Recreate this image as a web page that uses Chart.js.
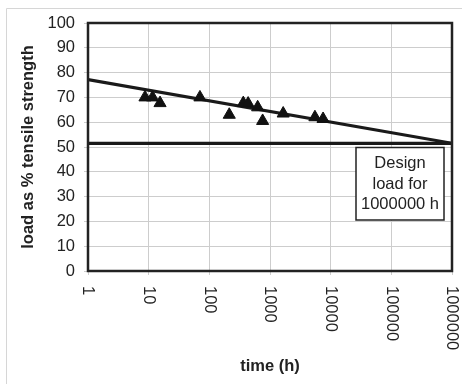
<!DOCTYPE html>
<html>
<head>
<meta charset="utf-8">
<script src="https://cdn.jsdelivr.net/npm/chart.js@4"></script>
<style>
  html, body { margin: 0; padding: 0; background: #fff; }
  #wrap { width: 462px; height: 384px; }
</style>
</head>
<body>
<div id="wrap"><canvas id="creepChart" width="462" height="384"></canvas></div>
<script>
// decade ticks on the time axis
let timeTicks = [1, 10, 100, 1000, 10000, 100000, 1000000];

// measured creep-rupture points
let testHours = [8.7, 11.6, 15.4, 70, 213, 363, 436, 626, 756, 1650, 5500, 7500];
let testLoads = [70, 70, 67.7, 70, 63, 67.7, 67.5, 66, 60.5, 63.5, 62, 61.3];

// fitted trend line and design load line
let trendHours = [1, 1000000];
let trendLoads = [77.2, 51.5];
let designLoad = 51.5;

let boxLines = ["Design", "load for", "1000000 h"];

let fontFamily = '"Liberation Sans", Arial, sans-serif';

// draws the grey frame, the plot border, the rotated time labels and the note box
let decorations = {
    id: 'decorations',
    beforeDraw(chart) {
        let ctx = chart.ctx;
        ctx.save();
        ctx.strokeStyle = '#d6d6d6';
        ctx.lineWidth = 1;
        ctx.beginPath();
        ctx.moveTo(6.5, 384);
        ctx.lineTo(6.5, 8.5);
        ctx.lineTo(462, 8.5);
        ctx.stroke();
        ctx.restore();
    },
    afterDatasetsDraw(chart) {
        let ctx = chart.ctx;
        let area = chart.chartArea;
        let x = chart.scales.x;
        ctx.save();
        ctx.strokeStyle = '#222';
        ctx.lineWidth = 2.5;
        ctx.strokeRect(area.left, area.top, area.right - area.left, area.bottom - area.top);

        // time labels read top to bottom
        ctx.fillStyle = '#222';
        ctx.font = '16.5px ' + fontFamily;
        ctx.textAlign = 'left';
        ctx.textBaseline = 'middle';
        for (let v of timeTicks) {
            ctx.save();
            ctx.translate(x.getPixelForValue(v), area.bottom + 15);
            ctx.rotate(Math.PI / 2);
            ctx.fillText(String(v), 0, 0);
            ctx.restore();
        }

        // note box
        let bx = 356, by = 147.5, bw = 88, bh = 72.5;
        ctx.fillStyle = '#fff';
        ctx.fillRect(bx, by, bw, bh);
        ctx.strokeStyle = '#222';
        ctx.lineWidth = 1.5;
        ctx.strokeRect(bx, by, bw, bh);
        ctx.fillStyle = '#222';
        ctx.textAlign = 'center';
        boxLines.forEach((t, i) => ctx.fillText(t, bx + bw / 2, by + 16 + i * 20.5));
        ctx.restore();
    }
};

new Chart("creepChart", {
    type: "scatter",
    data: {
        datasets: [{
            label: "tests",
            data: testHours.map((h, i) => ({ x: h, y: testLoads[i] })),
            pointStyle: 'triangle',
            pointRadius: 7,
            pointHoverRadius: 7,
            backgroundColor: '#111',
            borderColor: '#111',
            borderWidth: 1,
            order: 1
        }, {
            type: 'line',
            label: "trend",
            data: trendHours.map((h, i) => ({ x: h, y: trendLoads[i] })),
            borderColor: '#1a1a1a',
            borderWidth: 3.2,
            pointRadius: 0,
            fill: false,
            order: 2
        }, {
            type: 'line',
            label: "design",
            data: trendHours.map(h => ({ x: h, y: designLoad })),
            borderColor: '#1a1a1a',
            borderWidth: 3.2,
            pointRadius: 0,
            fill: false,
            order: 3
        }]
    },
    options: {
        responsive: false,
        animation: false,
        events: [],
        layout: { padding: { left: 15, top: 23, right: 10, bottom: 4 } },
        plugins: {
            legend: { display: false },
            tooltip: { enabled: false }
        },
        scales: {
            x: {
                type: 'logarithmic',
                min: 1,
                max: 1000000,
                afterBuildTicks: s => { s.ticks = timeTicks.map(v => ({ value: v })); },
                afterFit: s => { s.height = 109; },
                ticks: { display: false },
                grid: { color: '#cdcdcd', tickColor: '#cdcdcd', tickLength: 4 },
                border: { display: false },
                title: {
                    display: true,
                    text: 'time (h)',
                    color: '#222',
                    font: { family: fontFamily, size: 16.5, weight: 'bold' }
                }
            },
            y: {
                min: 0,
                max: 100,
                afterFit: s => { s.width = 73; },
                ticks: {
                    stepSize: 10,
                    padding: 9,
                    color: '#222',
                    font: { family: fontFamily, size: 16.5 }
                },
                grid: { color: '#cdcdcd', tickColor: '#cdcdcd', tickLength: 4 },
                border: { display: false },
                title: {
                    display: true,
                    text: 'load as % tensile strength',
                    color: '#222',
                    font: { family: fontFamily, size: 16.5, weight: 'bold' }
                }
            }
        }
    },
    plugins: [decorations]
});
</script>
</body>
</html>
